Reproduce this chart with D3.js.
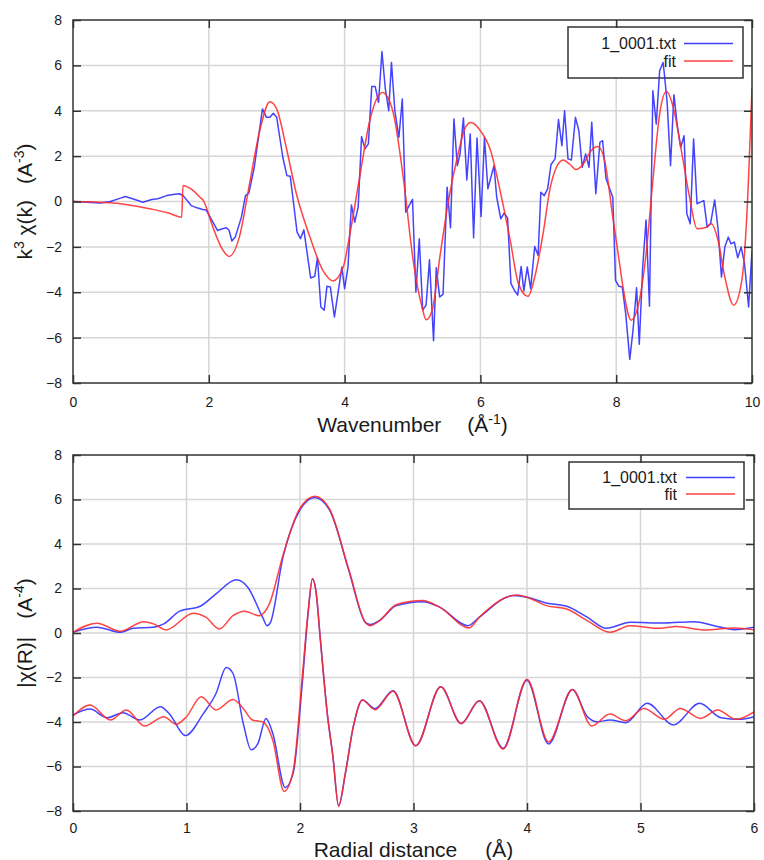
<!DOCTYPE html>
<html><head><meta charset="utf-8">
<script src="https://cdn.jsdelivr.net/npm/d3@7"></script>
<style>
body{margin:0;background:#fff}
svg{display:block}
text{font-family:"Liberation Sans",Arial,sans-serif;fill:#1a1a1a}
</style>
</head><body>
<svg id="chart" width="764" height="860"></svg>
<script>
// ---------- DATA ----------
// Top panel: k^3 chi(k) data (blue) and fit (red)
const kData = [0.00,0.20,0.40,0.55,0.70,0.77,0.90,1.03,1.16,1.25,1.38,1.50,1.57,1.62,1.68,1.74,1.80,1.91,1.96,2.05,2.13,2.20,2.26,2.30,2.34,2.39,2.48,2.54,2.59,2.67,2.79,2.85,2.90,2.95,3.00,3.09,3.15,3.20,3.30,3.35,3.40,3.50,3.56,3.60,3.65,3.70,3.74,3.79,3.85,3.96,4.00,4.05,4.10,4.15,4.20,4.25,4.30,4.35,4.40,4.45,4.50,4.55,4.60,4.65,4.69,4.74,4.80,4.85,4.90,4.95,5.00,5.05,5.10,5.15,5.20,5.25,5.31,5.35,5.40,5.45,5.51,5.56,5.61,5.66,5.70,5.75,5.80,5.85,5.90,5.95,6.01,6.06,6.11,6.20,6.24,6.30,6.35,6.40,6.45,6.50,6.55,6.60,6.64,6.69,6.74,6.80,6.85,6.89,6.94,6.99,7.04,7.10,7.15,7.20,7.24,7.29,7.34,7.40,7.45,7.50,7.55,7.60,7.64,7.70,7.76,7.80,7.85,7.90,7.95,7.99,8.04,8.09,8.14,8.20,8.25,8.30,8.34,8.39,8.44,8.49,8.54,8.59,8.64,8.69,8.71,8.75,8.80,8.85,8.90,8.95,9.00,9.04,9.09,9.14,9.19,9.24,9.29,9.34,9.39,9.45,9.50,9.55,9.60,9.65,9.69,9.74,9.79,9.84,9.89,9.95,10.00];
const chiData = [0.00,-0.03,-0.07,0.00,0.15,0.22,0.10,-0.03,0.09,0.12,0.26,0.32,0.34,0.26,0.05,-0.18,-0.25,-0.35,-0.37,-0.85,-1.28,-1.20,-1.16,-1.28,-1.74,-1.57,-0.69,0.26,0.37,1.51,4.08,3.71,3.71,3.89,3.71,1.95,1.14,1.11,-1.35,-1.64,-1.25,-3.37,-3.30,-2.48,-4.65,-4.79,-3.74,-3.77,-5.09,-2.89,-3.84,-2.89,-0.15,-0.91,-0.25,2.86,2.32,2.54,5.07,5.07,4.37,6.61,4.96,4.00,6.13,4.00,2.83,4.52,-0.47,-0.18,0.09,-3.99,-1.64,-4.79,-4.57,-2.57,-6.14,-2.92,-4.21,-4.09,0.63,-1.16,3.64,1.58,2.10,3.68,0.95,2.98,-1.60,2.80,-0.66,2.83,0.56,1.58,0.19,-0.76,-0.51,-0.72,-3.62,-3.91,-4.13,-2.86,-3.94,-2.89,-3.84,-1.98,-2.38,0.41,0.26,0.56,1.63,1.88,3.61,2.46,4.00,1.88,1.83,3.71,3.12,1.51,2.10,1.51,3.49,0.34,2.61,2.68,1.00,0.60,0.19,-3.48,-3.74,-3.77,-4.94,-6.96,-5.60,-3.80,-6.29,-2.89,-0.81,-4.62,4.88,3.42,5.76,6.13,5.61,4.37,1.58,4.71,3.34,2.39,2.90,-0.54,-0.98,2.76,-0.10,-0.03,0.04,-1.13,-0.98,0.07,-1.20,-3.33,-2.01,-1.57,-1.86,-1.79,-2.48,-2.01,-2.74,-4.65,-2.16];
const kFit = [0.00,0.55,0.80,1.13,1.40,1.60,1.62,1.70,1.77,1.87,1.92,2.06,2.18,2.30,2.45,2.60,2.75,2.90,3.00,3.14,3.29,3.49,3.68,3.83,3.98,4.08,4.23,4.37,4.52,4.56,4.60,4.72,4.87,5.01,5.14,5.20,5.29,5.41,5.53,5.66,5.78,5.86,6.00,6.15,6.29,6.44,6.56,6.70,6.80,6.93,7.02,7.12,7.22,7.32,7.41,7.51,7.63,7.73,7.83,7.95,8.05,8.10,8.22,8.32,8.44,8.54,8.64,8.74,8.84,8.96,9.08,9.19,9.31,9.40,9.50,9.60,9.73,9.85,9.92,10.00];
const chiFit = [0.00,-0.06,-0.14,-0.32,-0.50,-0.69,0.70,0.62,0.48,0.19,0.04,-1.13,-2.00,-2.42,-1.57,0.78,3.12,4.40,4.08,2.39,0.34,-1.57,-3.04,-3.50,-2.89,-1.40,1.22,3.56,4.74,4.80,4.74,3.86,0.92,-2.60,-4.65,-5.21,-4.79,-2.30,0.04,1.95,3.27,3.48,3.12,2.25,0.48,-1.72,-3.62,-4.18,-3.33,-1.28,0.48,1.51,1.83,1.63,1.41,1.63,2.24,2.42,1.80,-0.69,-2.74,-3.77,-5.23,-4.65,-2.30,0.92,3.86,4.85,4.15,2.24,0.19,-1.20,-1.16,-0.98,-1.72,-3.33,-4.57,-3.48,-0.84,5.03];

// Bottom panel: |chi(R)| data/fit and lower (offset) component data/fit
const rMagData = [0.00,0.21,0.42,0.53,0.71,0.80,0.94,1.12,1.26,1.44,1.54,1.67,1.71,1.74,1.85,1.99,2.13,2.26,2.43,2.58,2.62,2.70,2.85,3.08,3.23,3.48,3.58,3.88,4.00,4.17,4.35,4.53,4.70,4.91,5.21,5.47,5.65,5.83,6.00];
const magData = [0.03,0.26,0.03,0.21,0.26,0.41,0.98,1.20,1.76,2.39,2.06,0.71,0.33,0.48,3.41,5.44,6.09,5.53,2.81,0.45,0.38,0.56,1.23,1.41,1.16,0.33,0.71,1.68,1.61,1.35,1.20,0.71,0.21,0.48,0.45,0.51,0.33,0.15,0.26];
const rMagFit = [0.00,0.21,0.42,0.62,0.71,0.82,1.06,1.17,1.29,1.41,1.51,1.64,1.73,1.85,1.99,2.13,2.26,2.43,2.58,2.62,2.70,2.85,3.08,3.23,3.49,3.58,3.91,4.00,4.17,4.35,4.53,4.73,4.91,5.15,5.32,5.56,5.83,6.00];
const magFit = [0.03,0.44,0.08,0.51,0.41,0.14,0.89,0.71,0.18,0.78,0.98,0.78,1.31,3.49,5.52,6.15,5.58,2.85,0.45,0.33,0.56,1.28,1.46,1.16,0.23,0.71,1.71,1.61,1.23,1.08,0.56,0.03,0.33,0.21,0.29,0.14,0.23,0.14];
const rLowData = [0.00,0.15,0.30,0.44,0.59,0.77,0.85,0.99,1.15,1.26,1.35,1.41,1.50,1.57,1.63,1.70,1.76,1.87,1.94,2.02,2.07,2.11,2.14,2.18,2.24,2.29,2.34,2.40,2.47,2.55,2.66,2.82,3.02,3.24,3.42,3.58,3.79,4.00,4.19,4.40,4.53,4.62,4.73,4.87,5.06,5.29,5.52,5.71,5.87,6.00];
const lowData = [-3.69,-3.42,-3.81,-3.58,-3.91,-3.31,-3.64,-4.61,-3.61,-2.72,-1.55,-1.82,-4.06,-5.25,-4.96,-3.84,-4.51,-6.95,-6.30,-2.27,0.80,2.44,1.90,-0.33,-3.60,-5.55,-7.75,-6.30,-4.20,-3.01,-3.40,-2.60,-5.07,-2.42,-4.07,-3.04,-5.18,-2.12,-4.99,-2.54,-3.75,-3.99,-3.91,-4.03,-3.16,-4.13,-3.16,-3.81,-3.88,-3.76];
const rLowFit = [0.00,0.15,0.33,0.47,0.63,0.80,0.91,1.00,1.13,1.26,1.41,1.50,1.58,1.67,1.76,1.86,1.94,2.02,2.07,2.11,2.14,2.18,2.24,2.29,2.34,2.40,2.47,2.55,2.66,2.82,3.02,3.24,3.42,3.58,3.79,4.00,4.19,4.40,4.57,4.73,4.87,5.03,5.21,5.35,5.53,5.68,5.84,6.00];
const lowFit = [-3.73,-3.24,-3.91,-3.46,-4.18,-3.76,-4.10,-3.76,-2.87,-3.46,-2.99,-3.39,-3.91,-3.99,-4.81,-7.12,-6.20,-1.97,0.90,2.44,1.90,-0.33,-3.60,-5.55,-7.79,-6.30,-4.20,-3.01,-3.45,-2.62,-5.07,-2.42,-4.07,-3.04,-5.22,-2.08,-4.90,-2.54,-4.18,-3.64,-3.94,-3.39,-3.88,-3.39,-3.84,-3.46,-3.88,-3.54];

const topXTicks = [0,2,4,6,8,10];
const botXTicks = [0,1,2,3,4,5,6];
const yTicks = [-8,-6,-4,-2,0,2,4,6,8];
const legendLabels = ["1_0001.txt","fit"];

// ---------- DRAWING ----------
const BLUE = "#2a2aff", RED = "#ff2a2a";
const svg = d3.select("#chart");

function zip(xs, ys){ return xs.map((v,i)=>[v, ys[i]]); }

function panel(o){
  const g = svg.append("g");
  const x = d3.scaleLinear().domain(o.xDomain).range([o.left, o.right]);
  const y = d3.scaleLinear().domain([-8,8]).range([o.bottom, o.top]);
  const W = o.right - o.left, H = o.bottom - o.top;

  // grid
  g.append("g").selectAll("line").data(o.xTicks.slice(1,-1)).join("line")
    .attr("x1",d=>x(d)).attr("x2",d=>x(d)).attr("y1",o.top).attr("y2",o.bottom)
    .attr("stroke","#d6d6d6").attr("stroke-width",1.5);
  g.append("g").selectAll("line").data(yTicks.slice(1,-1)).join("line")
    .attr("y1",d=>y(d)).attr("y2",d=>y(d)).attr("x1",o.left).attr("x2",o.right)
    .attr("stroke","#d6d6d6").attr("stroke-width",1.5);

  // legend
  const L = o.legend;
  g.append("rect").attr("x",L.x).attr("y",L.y).attr("width",L.w).attr("height",L.h)
    .attr("fill","#fff").attr("stroke","#333").attr("stroke-width",1.5);
  legendLabels.forEach((lab,i)=>{
    const by = L.y + L.row0 + i*L.dy;
    g.append("text").attr("x",L.x+L.textRight).attr("y",by).attr("text-anchor","end")
      .attr("font-size",16).text(lab);
    g.append("line").attr("x1",L.x+L.lx1).attr("x2",L.x+L.lx2)
      .attr("y1",by-5.5).attr("y2",by-5.5)
      .attr("stroke",i===0?BLUE:RED).attr("stroke-width",1.5).attr("stroke-opacity",0.9);
  });

  // clip
  const cid = "clip"+o.id;
  svg.append("clipPath").attr("id",cid).append("rect")
    .attr("x",o.left).attr("y",o.top).attr("width",W).attr("height",H);
  const lines = g.append("g").attr("clip-path",`url(#${cid})`);
  o.series.forEach(s=>{
    const gen = d3.line().x(d=>x(d[0])).y(d=>y(d[1])).curve(s.curve);
    lines.append("path").attr("d",gen(s.data)).attr("fill","none")
      .attr("stroke",s.color).attr("stroke-width",1.5).attr("stroke-opacity",0.88)
      .attr("stroke-linejoin","round");
  });

  // axes with inward ticks
  const TS = 8;
  const ax = g.append("g");
  const left = ax.append("g").attr("transform",`translate(${o.left},0)`)
    .call(d3.axisLeft(y).tickValues(yTicks).tickSize(-TS).tickPadding(11).tickFormat(d3.format("d")));
  const bottom = ax.append("g").attr("transform",`translate(0,${o.bottom})`)
    .call(d3.axisBottom(x).tickValues(o.xTicks).tickSize(-TS).tickPadding(o.xPad).tickFormat(d3.format("d")));
  const right = ax.append("g").attr("transform",`translate(${o.right},0)`)
    .call(d3.axisRight(y).tickValues(yTicks).tickSize(-TS).tickFormat(""));
  const top = ax.append("g").attr("transform",`translate(0,${o.top})`)
    .call(d3.axisTop(x).tickValues(o.xTicks).tickSize(-TS).tickFormat(""));
  [left,bottom,right,top].forEach(a=>{
    a.attr("font-size",14).attr("font-family",'"Liberation Sans",Arial,sans-serif');
    a.select(".domain").remove();
    a.selectAll("line").attr("stroke","#333").attr("stroke-width",1.5);
    a.selectAll("text").attr("fill","#1a1a1a");
  });

  // frame
  g.append("rect").attr("x",o.left).attr("y",o.top).attr("width",W).attr("height",H)
    .attr("fill","none").attr("stroke","#333").attr("stroke-width",1.5);

  // x title
  const xt = g.append("text").attr("x",(o.left+o.right)/2).attr("y",o.xTitleY)
    .attr("text-anchor","middle").attr("font-size",21);
  xt.append("tspan").text(o.xTitle);
  xt.append("tspan").attr("dx",o.xGap).text(o.xUnit);
  if(o.xSup){
    xt.append("tspan").attr("dy",-8).attr("font-size",14).text(o.xSup);
    xt.append("tspan").attr("dy",8).text(")");
  } else {
    xt.append("tspan").text(")");
  }

  // y title (rotated)
  const yt = g.append("text").attr("transform","rotate(-90)")
    .attr("x",-(o.top+o.bottom)/2).attr("y",32).attr("text-anchor","middle").attr("font-size",21);
  o.yTitleParts.forEach(p=>{
    const t = yt.append("tspan").text(p.t);
    if(p.sup){ t.attr("dy",-8).attr("font-size",14); }
    if(p.down){ t.attr("dy",8); }
    if(p.dx){ t.attr("dx",p.dx); }
  });
}

panel({
  id:"top", left:73, right:752, top:20, bottom:383, xDomain:[0,10], xTicks:topXTicks, xPad:14,
  legend:{x:568,y:27,w:175,h:51,row0:22,dy:17.5,textRight:108,lx1:116,lx2:165},
  series:[
    {data:zip(kData,chiData), color:BLUE, curve:d3.curveLinear},
    {data:zip(kFit,chiFit), color:RED, curve:d3.curveMonotoneX}
  ],
  xTitle:"Wavenumber", xGap:26, xUnit:"(Å", xSup:"-1", xTitleY:432,
  yTitleParts:[{t:"k"},{t:"3",sup:true},{t:" χ(k)",down:true},{t:"(A",dx:16},{t:"-3",sup:true},{t:")",down:true}]
});

panel({
  id:"bot", left:73, right:754, top:455, bottom:811, xDomain:[0,6], xTicks:botXTicks, xPad:12,
  legend:{x:569,y:462,w:175,h:47,row0:21,dy:16.5,textRight:108,lx1:117,lx2:166},
  series:[
    {data:zip(rMagData,magData), color:BLUE, curve:d3.curveMonotoneX},
    {data:zip(rLowData,lowData), color:BLUE, curve:d3.curveMonotoneX},
    {data:zip(rMagFit,magFit), color:RED, curve:d3.curveMonotoneX},
    {data:zip(rLowFit,lowFit), color:RED, curve:d3.curveMonotoneX}
  ],
  xTitle:"Radial distance", xGap:28, xUnit:"(Å", xSup:null, xTitleY:857,
  yTitleParts:[{t:"|χ(R)|"},{t:"(A",dx:18},{t:"-4",sup:true},{t:")",down:true}]
});
</script>
</body></html>
